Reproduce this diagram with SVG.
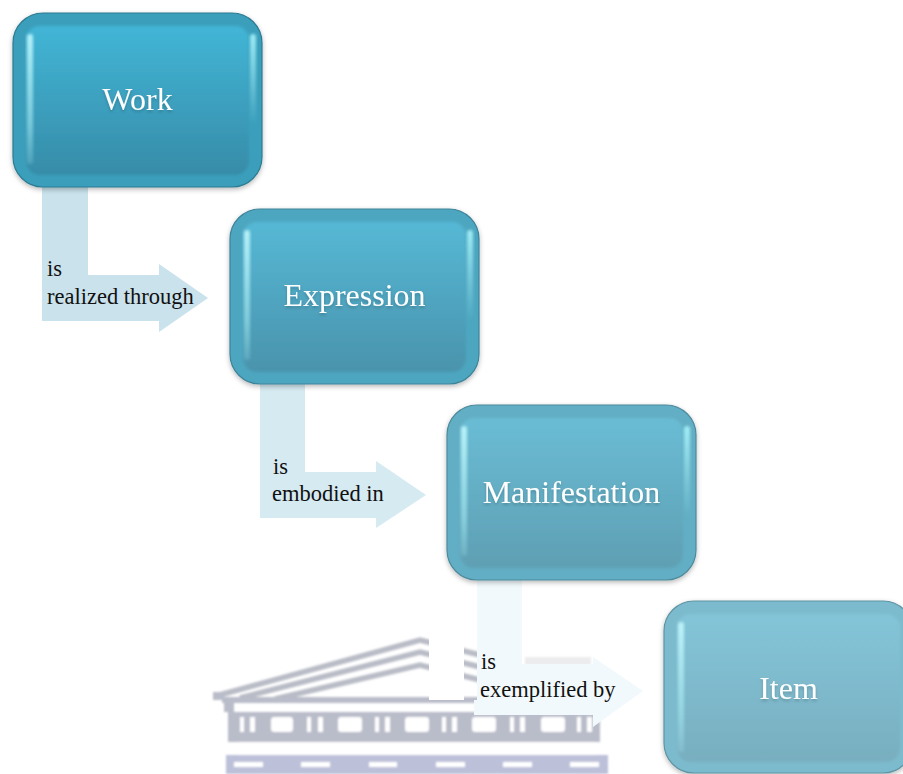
<svg xmlns="http://www.w3.org/2000/svg" width="903" height="774" viewBox="0 0 903 774">
<style>
.lab{font-family:"Liberation Serif","Times New Roman",serif;font-size:22.500px;fill:#111}
.nt{font-family:"Liberation Serif","Times New Roman",serif;font-size:32px;fill:#fff;text-anchor:middle;filter:url(#ts)}
.inner{filter:url(#in)}
.hl{fill:url(#hlv);filter:url(#in)}
.hr{fill:url(#hrv);filter:url(#in)}
.wm{fill:none;stroke:#b9bcc6;stroke-width:5.500}
.wf{fill:#b9bcc9}
.win{fill:#fff}
</style>
<defs>
<linearGradient id="w1" x1="0" y1="0" x2="0" y2="1"><stop offset="0" stop-color="#42b5d6"/><stop offset="1" stop-color="#368ca8"/></linearGradient>
<linearGradient id="w2" x1="0" y1="0" x2="0" y2="1"><stop offset="0" stop-color="#55b8d5"/><stop offset="1" stop-color="#4a93ac"/></linearGradient>
<linearGradient id="w3" x1="0" y1="0" x2="0" y2="1"><stop offset="0" stop-color="#69bcd5"/><stop offset="1" stop-color="#5f9fb3"/></linearGradient>
<linearGradient id="w4" x1="0" y1="0" x2="0" y2="1"><stop offset="0" stop-color="#84c5d9"/><stop offset="1" stop-color="#78aebf"/></linearGradient>
<linearGradient id="hlv" x1="0" y1="0" x2="0" y2="1"><stop offset="0" stop-color="#c8fbff" stop-opacity=".85"/><stop offset=".7" stop-color="#a8eef5" stop-opacity=".55"/><stop offset="1" stop-color="#a8eef5" stop-opacity=".2"/></linearGradient>
<linearGradient id="hrv" x1="0" y1="0" x2="0" y2="1"><stop offset="0" stop-color="#a8f4fb" stop-opacity=".9"/><stop offset="1" stop-color="#a8f4fb" stop-opacity="0"/></linearGradient>
<filter id="ts" x="-20%" y="-20%" width="140%" height="150%"><feDropShadow dx="0" dy="2" stdDeviation="1.500" flood-color="#000" flood-opacity=".2"/></filter>
<filter id="sh" x="-10%" y="-10%" width="120%" height="125%"><feDropShadow dx="0" dy="2" stdDeviation="2.500" flood-color="#000" flood-opacity=".28"/></filter>
<filter id="in" x="-20%" y="-20%" width="140%" height="140%"><feGaussianBlur stdDeviation="1.500"/></filter>
<filter id="soft" x="-5%" y="-5%" width="110%" height="110%"><feGaussianBlur stdDeviation="1.100"/></filter>
</defs>
<rect width="903" height="774" fill="#fff"/>
<g id="watermark" filter="url(#soft)">
<rect x="525" y="657" width="66" height="8" fill="#ececee"/>
<path class="wm" d="M216 696 L420 640 L480 655"/>
<path class="wm" d="M240 698 L420 652 L480 667"/>
<path class="wm" d="M275 699 L420 665 L480 680"/>
<rect class="wf" x="213" y="692" width="10" height="8"/>
<rect class="wf" x="222" y="697" width="380" height="6"/>
<rect class="wf" x="224" y="703" width="10" height="9"/>
<rect class="wf" x="228" y="712" width="372" height="30"/>
<rect class="win" x="240" y="717" width="4" height="15"/><rect class="win" x="250" y="717" width="5" height="15"/>
<rect class="win" x="271" y="717" width="22" height="15" rx="3"/>
<rect class="win" x="307" y="717" width="4" height="15"/><rect class="win" x="318" y="717" width="5" height="15"/>
<rect class="win" x="338" y="717" width="24" height="15" rx="3"/>
<rect class="win" x="375" y="717" width="4" height="15"/><rect class="win" x="385" y="717" width="5" height="15"/>
<rect class="win" x="405" y="717" width="24" height="15" rx="3"/>
<rect class="win" x="442" y="717" width="4" height="15"/><rect class="win" x="452" y="717" width="5" height="15"/>
<rect class="win" x="472" y="717" width="24" height="15" rx="3"/>
<rect class="win" x="510" y="717" width="4" height="15"/><rect class="win" x="520" y="717" width="5" height="15"/>
<rect class="win" x="541" y="717" width="24" height="15" rx="3"/>
<rect class="win" x="577" y="717" width="4" height="15"/><rect class="win" x="587" y="717" width="5" height="15"/>
<rect class="win" x="238" y="742" width="357" height="13"/>
<rect x="226" y="755" width="382" height="19" fill="#bcc0d9"/>
<rect class="win" x="234" y="762" width="29" height="5"/><rect class="win" x="301" y="762" width="29" height="5"/><rect class="win" x="369" y="762" width="28" height="5"/><rect class="win" x="436" y="762" width="29" height="5"/><rect class="win" x="503" y="762" width="29" height="5"/><rect class="win" x="570" y="762" width="29" height="5"/>
</g>
<rect x="429" y="635" width="35" height="65" fill="#fff"/>
<g id="connectors">
<path fill="#c9e2ec" d="M42 187H88V275H159V264L208 298L159 332V321H42Z"/>
<path fill="#d6eaf2" d="M260 384H305V472H376V461L426 495L376 528V518H260Z"/>
<path fill="#f1f9fd" d="M477 580H522V664H593V657L643 691L593 727V715H474V700H477Z"/>
<text class="lab" x="47" y="276">is</text>
<text class="lab" x="47" y="304">realized through</text>
<text class="lab" x="273" y="474">is</text>
<text class="lab" x="272" y="501">embodied in</text>
<text class="lab" x="481" y="669">is</text>
<text class="lab" x="480" y="697">exemplified by</text>
</g>
<g id="node-work">
<rect x="13" y="13" width="249" height="174" rx="30" fill="#3a9fbc" stroke="#2c7b92" stroke-width="1.200" filter="url(#sh)"/>
<rect class="inner" x="26" y="26" width="223" height="149" rx="14" fill="url(#w1)"/>
<rect class="hl" x="27" y="34" width="6" height="130" rx="3"/>
<rect class="hr" x="250" y="34" width="6" height="90" rx="3"/>
<text class="nt" x="137.500" y="110">Work</text>
</g>
<g id="node-expression">
<rect x="230" y="209" width="249" height="175" rx="30" fill="#4da6c0" stroke="#3d8399" stroke-width="1.200" filter="url(#sh)"/>
<rect class="inner" x="243" y="222" width="223" height="150" rx="14" fill="url(#w2)"/>
<rect class="hl" x="244" y="230" width="6" height="130" rx="3"/>
<rect class="hr" x="467" y="230" width="6" height="90" rx="3"/>
<text class="nt" x="354.500" y="306">Expression</text>
</g>
<g id="node-manifestation">
<rect x="447" y="405" width="249" height="175" rx="30" fill="#62aec4" stroke="#4d8a9c" stroke-width="1.200" filter="url(#sh)"/>
<rect class="inner" x="460" y="418" width="223" height="150" rx="14" fill="url(#w3)"/>
<rect class="hl" x="461" y="426" width="6" height="130" rx="3"/>
<rect class="hr" x="684" y="426" width="6" height="90" rx="3"/>
<text class="nt" x="571.500" y="503">Manifestation</text>
</g>
<g id="node-item">
<rect x="664" y="601" width="249" height="172" rx="30" fill="#7cbbcd" stroke="#5e94a4" stroke-width="1.200" filter="url(#sh)"/>
<rect class="inner" x="677" y="614" width="223" height="148" rx="14" fill="url(#w4)"/>
<rect class="hl" x="678" y="622" width="6" height="130" rx="3"/>
<text class="nt" x="788.500" y="699">Item</text>
</g>
</svg>
